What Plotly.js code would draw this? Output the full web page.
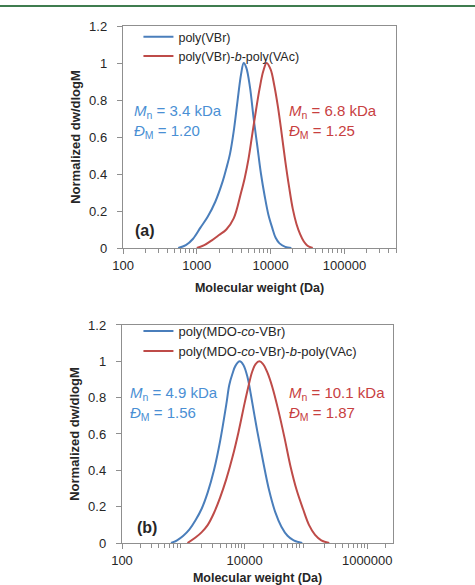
<!DOCTYPE html>
<html>
<head>
<meta charset="utf-8">
<script src="https://cdn.plot.ly/plotly-3.0.1.min.js"></script>
<style>
  html, body { margin: 0; padding: 0; background: #ffffff; }
  #chart { width: 475px; height: 585px; }
</style>
</head>
<body>
<div id="chart"></div>
<script>
// ---- (a) poly(VBr) and its block copolymer with VAc ----
const mwVBr       = [560, 710, 890, 1120, 1410, 1780, 2240, 2510, 2820, 3160, 3550, 3980, 4320, 4680, 5250, 5890, 6610, 7410, 8320, 9330, 10500, 11700, 13200, 15800, 19100];
const wVBr        = [0, 0.015, 0.05, 0.11, 0.17, 0.25, 0.36, 0.43, 0.51, 0.63, 0.79, 0.94, 1.00, 0.975, 0.87, 0.70, 0.55, 0.40, 0.28, 0.18, 0.11, 0.055, 0.025, 0.006, 0];

const mwVBrVAc    = [1000, 1260, 1580, 2000, 2510, 3160, 3980, 4470, 5010, 5620, 6310, 7080, 7940, 8830, 10000, 11200, 12600, 14100, 15800, 17800, 20000, 22400, 25100, 28200, 31600, 37200];
const wVBrVAc     = [0, 0.015, 0.04, 0.07, 0.10, 0.16, 0.30, 0.38, 0.48, 0.61, 0.74, 0.86, 0.955, 1.00, 0.965, 0.88, 0.76, 0.62, 0.47, 0.33, 0.21, 0.13, 0.075, 0.035, 0.012, 0];

// ---- (b) poly(MDO-co-VBr) and its block copolymer with VAc ----
const mwMDO       = [630, 790, 1000, 1260, 1580, 2000, 2510, 3160, 3980, 5010, 5620, 6310, 7080, 8320, 9550, 11200, 12600, 15800, 20000, 25100, 31600, 39800, 50100, 63100, 87100];
const wMDO        = [0, 0.015, 0.04, 0.075, 0.125, 0.19, 0.28, 0.40, 0.56, 0.76, 0.87, 0.93, 0.975, 1.00, 0.98, 0.91, 0.82, 0.63, 0.45, 0.29, 0.17, 0.09, 0.04, 0.015, 0];

const mwMDOVAc    = [1170, 1580, 2000, 2510, 3160, 3980, 5010, 6310, 7940, 10000, 11500, 13200, 15100, 17400, 20000, 23400, 28200, 35500, 44700, 56200, 70800, 89100, 112000, 141000, 178000, 240000];
const wMDOVAc     = [0, 0.03, 0.06, 0.10, 0.165, 0.25, 0.35, 0.47, 0.61, 0.77, 0.86, 0.94, 0.985, 1.00, 0.985, 0.94, 0.86, 0.73, 0.58, 0.42, 0.29, 0.19, 0.10, 0.045, 0.015, 0];

// legend names and annotation labels
const namesA = ['poly(VBr)', 'poly(VBr)-<i>b</i>-poly(VAc)'];
const namesB = ['poly(MDO-<i>co</i>-VBr)', 'poly(MDO-<i>co</i>-VBr)-<i>b</i>-poly(VAc)'];
const labelsA = ['<i>M</i><sub>n</sub> = 3.4 kDa<br><i>Đ</i><sub>M</sub> = 1.20', '<i>M</i><sub>n</sub> = 6.8 kDa<br><i>Đ</i><sub>M</sub> = 1.25'];
const labelsB = ['<i>M</i><sub>n</sub> = 4.9 kDa<br><i>Đ</i><sub>M</sub> = 1.56', '<i>M</i><sub>n</sub> = 10.1 kDa<br><i>Đ</i><sub>M</sub> = 1.87'];

// tick labels
const ticksA = [100, 1000, 10000, 100000];
const ticksB = [100, 10000, 1000000];
const yTicks = [0, 0.2, 0.4, 0.6, 0.8, 1, 1.2];

const BLUE = '#4a7ebb', RED = '#be4b48';
const BLUE_TXT = '#4a8fd4', RED_TXT = '#c8403f';
const AXIS = '#8f8f8f';
const FONT = 'Liberation Sans, Arial, sans-serif';
const GAP = '\u00a0\u00a0';   // keeps the y labels clear of the tick marks

function minorTicks(lo, hi) {
  const out = [];
  for (let d = lo; d < hi; d *= 10) for (let k = 2; k <= 9; k++) out.push(d * k);
  return out;
}

const line = (x, y, name, color, xa, ya, leg) => ({
  x: x, y: y, name: name, type: 'scatter', mode: 'lines',
  line: { color: color, width: 2, shape: 'spline', smoothing: 1 },
  xaxis: xa, yaxis: ya, legend: leg, hoverinfo: 'skip'
});

const data = [
  line(mwVBr, wVBr, namesA[0], BLUE, 'x', 'y', 'legend'),
  line(mwVBrVAc, wVBrVAc, namesA[1], RED, 'x', 'y', 'legend'),
  line(mwMDO, wMDO, namesB[0], BLUE, 'x2', 'y2', 'legend2'),
  line(mwMDOVAc, wMDOVAc, namesB[1], RED, 'x2', 'y2', 'legend2')
];

const axisBase = {
  showline: true, linecolor: AXIS, linewidth: 1, mirror: true,
  showgrid: false, zeroline: false,
  ticks: 'outside', ticklen: 5, tickcolor: AXIS, tickangle: 0,
  tickfont: { family: FONT, size: 13, color: '#262626' }
};

const xTitleFont = { family: FONT, size: 12.5, color: '#262626', weight: 'bold' };
const yTitle = { text: 'Normalized dw/dlogM', font: { family: FONT, size: 13, color: '#262626', weight: 'bold' }, standoff: 5 };

const layout = {
  width: 475, height: 585,
  margin: { l: 122, r: 79, t: 26, b: 42, autoexpand: false },
  paper_bgcolor: '#ffffff', plot_bgcolor: '#ffffff',
  showlegend: true,
  xaxis: Object.assign({}, axisBase, {
    type: 'log', range: [2, Math.log10(500000)], domain: [0.0037, 1], anchor: 'y',
    tickmode: 'array', tickvals: ticksA, ticktext: ticksA.map(String),
    minor: { tickmode: 'array', tickvals: minorTicks(100, 500000), ticks: 'outside', ticklen: 4, tickcolor: AXIS },
    title: { text: 'Molecular weight (Da)', font: xTitleFont, standoff: 11 }
  }),
  yaxis: Object.assign({}, axisBase, {
    range: [0, 1.2], domain: [0.5706, 1], anchor: 'x',
    tickmode: 'array', tickvals: yTicks, ticktext: yTicks.map(v => String(v) + GAP),
    title: yTitle
  }),
  xaxis2: Object.assign({}, axisBase, {
    type: 'log', range: [2, 6.42], domain: [0, 0.989], anchor: 'y2',
    tickmode: 'array', tickvals: ticksB, ticktext: ticksB.map(String),
    minor: { tickmode: 'array', tickvals: minorTicks(100, 2000000), ticks: 'outside', ticklen: 4, tickcolor: AXIS },
    title: { text: 'Molecular weight (Da)', font: xTitleFont, standoff: 8 }
  }),
  yaxis2: Object.assign({}, axisBase, {
    range: [0, 1.2], domain: [0, 0.4217], anchor: 'x2',
    tickmode: 'array', tickvals: yTicks, ticktext: yTicks.map(v => String(v) + GAP),
    title: yTitle
  }),
  legend: {
    x: 0.06, y: 1.0076, xanchor: 'left', yanchor: 'top', bgcolor: 'rgba(0,0,0,0)', borderwidth: 0,
    font: { family: FONT, size: 12.5, color: '#262626' }, itemwidth: 30, tracegroupgap: 0
  },
  legend2: {
    x: 0.06, y: 0.439, xanchor: 'left', yanchor: 'top', bgcolor: 'rgba(0,0,0,0)', borderwidth: 0,
    font: { family: FONT, size: 13, color: '#262626' }, itemwidth: 30, tracegroupgap: 0
  },
  annotations: [
    { xref: 'x domain', yref: 'y domain', x: 0.033, y: 0.568, xanchor: 'left', yanchor: 'middle', align: 'left',
      text: labelsA[0], showarrow: false, font: { family: FONT, size: 15, color: BLUE_TXT } },
    { xref: 'x domain', yref: 'y domain', x: 0.60, y: 0.572, xanchor: 'left', yanchor: 'middle', align: 'left',
      text: labelsA[1], showarrow: false, font: { family: FONT, size: 15, color: RED_TXT } },
    { xref: 'x domain', yref: 'y domain', x: 0.08, y: 0.081, xanchor: 'center', yanchor: 'middle',
      text: '<b>(a)</b>', showarrow: false, font: { family: FONT, size: 16, color: '#262626' } },
    { xref: 'x2 domain', yref: 'y2 domain', x: 0.022, y: 0.638, xanchor: 'left', yanchor: 'middle', align: 'left',
      text: labelsB[0], showarrow: false, font: { family: FONT, size: 15, color: BLUE_TXT } },
    { xref: 'x2 domain', yref: 'y2 domain', x: 0.609, y: 0.638, xanchor: 'left', yanchor: 'middle', align: 'left',
      text: labelsB[1], showarrow: false, font: { family: FONT, size: 15, color: RED_TXT } },
    { xref: 'x2 domain', yref: 'y2 domain', x: 0.092, y: 0.069, xanchor: 'center', yanchor: 'middle',
      text: '<b>(b)</b>', showarrow: false, font: { family: FONT, size: 16, color: '#262626' } }
  ],
  shapes: [
    // green rule across the top of the page
    { type: 'line', xref: 'paper', yref: 'paper', x0: -122 / 274, x1: 353 / 274, y0: 537 / 517, y1: 537 / 517,
      line: { color: '#3f7c4f', width: 2 } }
  ]
};

Plotly.newPlot('chart', data, layout, { staticPlot: true, displayModeBar: false });
</script>
</body>
</html>
